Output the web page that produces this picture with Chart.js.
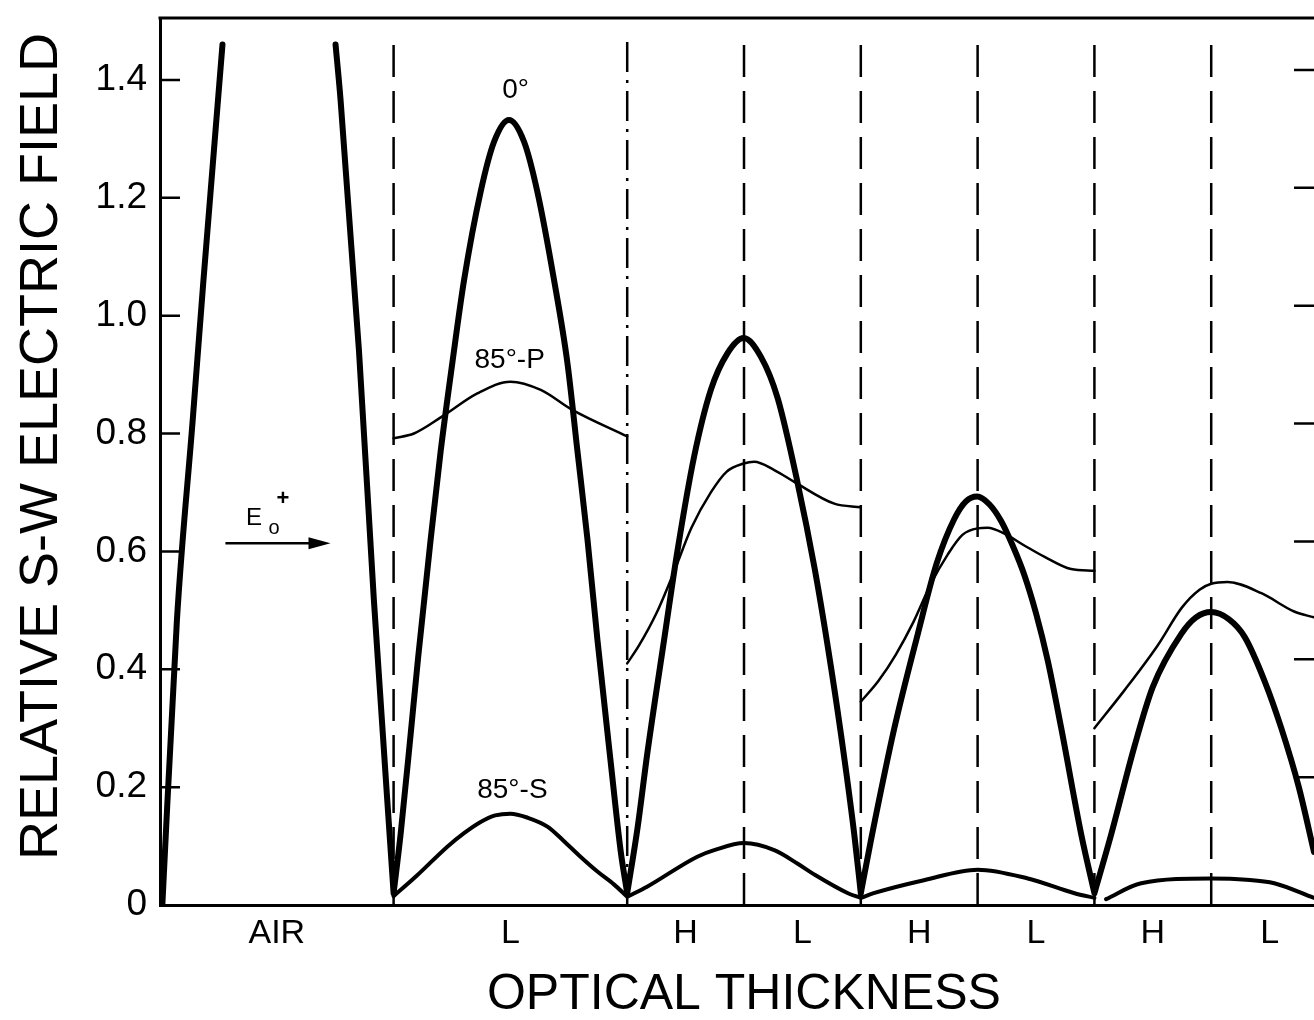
<!DOCTYPE html>
<html>
<head>
<meta charset="utf-8">
<title>Relative S-W electric field</title>
<script src="https://cdn.jsdelivr.net/npm/chart.js@4.4.1/dist/chart.umd.min.js"></script>
<style>
  html, body { margin: 0; padding: 0; background: #fff; overflow: hidden; }
  canvas { display: block; }
</style>
</head>
<body>
<canvas id="fieldChart" width="1314" height="1020"></canvas>
<script>
// optical thickness in quarter-wave units, 0 = air / first layer interface
const layerNames = ["AIR", "L", "H", "L", "H", "L", "H", "L"];
const layerCenters = [-1, 1, 2.5, 3.5, 4.5, 5.5, 6.5, 7.5];
const boundaries = [0, 2, 3, 4, 5, 6, 7];
const yTicks = [0, 0.2, 0.4, 0.6, 0.8, 1.0, 1.2, 1.4];

// [thickness, field] pairs, null = break in the curve
const normal0 = [
    [-1.98, 0.0], [-1.855, 0.484], [-1.72, 0.823], [-1.63, 1.055], [-1.465, 1.46],
    null,
    [-0.497, 1.46], [-0.454, 1.366], [-0.297, 0.942], [-0.169, 0.518], [0.0, 0.02],
    null,
    [0.0, 0.02], [0.06, 0.12], [0.146, 0.29], [0.21, 0.42], [0.317, 0.62], [0.403, 0.77],
    [0.503, 0.92], [0.603, 1.06], [0.745, 1.21], [0.86, 1.295], [0.988, 1.332], [1.117, 1.295],
    [1.231, 1.21], [1.374, 1.06], [1.488, 0.92], [1.574, 0.77], [1.66, 0.62], [1.745, 0.45],
    [1.86, 0.24], [1.945, 0.09], [2.0, 0.02],
    null,
    [2.0, 0.02], [2.088, 0.13], [2.174, 0.26], [2.316, 0.45], [2.431, 0.602], [2.573, 0.761],
    [2.716, 0.874], [2.858, 0.936], [2.997, 0.962], [3.145, 0.93], [3.288, 0.86], [3.459, 0.716],
    [3.602, 0.574], [3.716, 0.44], [3.83, 0.29], [3.944, 0.12], [4.0, 0.02],
    null,
    [4.0, 0.02], [4.087, 0.11], [4.287, 0.30], [4.488, 0.46], [4.65, 0.58], [4.8, 0.655],
    [4.9, 0.685], [4.996, 0.693], [5.1, 0.68], [5.2, 0.652], [5.3, 0.61], [5.4, 0.56],
    [5.5, 0.495], [5.6, 0.415], [5.716, 0.30], [5.887, 0.12], [6.0, 0.02],
    null,
    [6.0, 0.02], [6.144, 0.12], [6.344, 0.27], [6.5, 0.37], [6.744, 0.46], [6.87, 0.488],
    [7.0, 0.497], [7.15, 0.485], [7.286, 0.455], [7.457, 0.38], [7.6, 0.30], [7.75, 0.20],
    [7.88, 0.09]
];

const p85 = [
    [0.0, 0.792], [0.174, 0.80], [0.417, 0.829], [0.717, 0.868], [1.0, 0.888], [1.26, 0.874],
    [1.53, 0.84], [2.0, 0.795],
    null,
    [2.0, 0.41], [2.1, 0.44], [2.25, 0.495], [2.4, 0.565], [2.55, 0.64], [2.716, 0.70],
    [2.85, 0.735], [2.997, 0.749], [3.087, 0.752], [3.259, 0.738], [3.43, 0.718], [3.773, 0.681],
    [4.0, 0.675],
    null,
    [4.0, 0.345], [4.15, 0.38], [4.3, 0.425], [4.45, 0.48], [4.6, 0.545], [4.745, 0.595],
    [4.87, 0.628], [5.0, 0.639], [5.086, 0.64], [5.23, 0.63], [5.4, 0.61], [5.57, 0.591],
    [5.8, 0.57], [6.0, 0.567],
    null,
    [6.0, 0.30], [6.26, 0.365], [6.54, 0.44], [6.75, 0.505], [6.9, 0.535], [7.0, 0.545],
    [7.14, 0.548], [7.43, 0.529], [7.71, 0.498], [7.88, 0.488]
];

const s85 = [
    [0.0, 0.015], [0.2, 0.05], [0.46, 0.099], [0.603, 0.122], [0.745, 0.141], [0.87, 0.152],
    [1.0, 0.155], [1.15, 0.148], [1.317, 0.133], [1.45, 0.11], [1.6, 0.082], [1.75, 0.056],
    [1.886, 0.035], [2.0, 0.014],
    null,
    [2.0, 0.014], [2.17, 0.031], [2.6, 0.082], [2.745, 0.093], [3.0, 0.105], [3.259, 0.093],
    [3.46, 0.07], [3.6, 0.052], [3.89, 0.02], [4.0, 0.012],
    null,
    [4.0, 0.012], [4.11, 0.02], [4.54, 0.042], [5.0, 0.06], [5.43, 0.045], [5.83, 0.02], [6.0, 0.012],
    null,
    [6.1, 0.01], [6.4, 0.037], [7.0, 0.045], [7.3, 0.043], [7.54, 0.037], [7.88, 0.012]
];

// curve labels, placed in data coordinates
const curveLabels = ["0°", "85°-P", "85°-S"];
const curveLabelX = [1.045, 0.994, 1.017];
const curveLabelY = [1.383, 0.925, 0.195];

const FONT = "'Liberation Sans', Arial, sans-serif";

function toPoints(pairs) {
    return pairs.map(p => p ? { x: p[0], y: p[1] } : { x: null, y: null });
}

function curve(pairs, width) {
    return {
        data: toPoints(pairs),
        borderColor: "#000",
        borderWidth: width,
        pointRadius: 0,
        spanGaps: false,
        cubicInterpolationMode: "monotone",
        borderCapStyle: "round",
        borderJoinStyle: "round"
    };
}

const datasets = [curve(normal0, 6), curve(s85, 4), curve(p85, 2.5)];

boundaries.forEach(b => {
    datasets.push({
        data: [{ x: b, y: 0 }, { x: b, y: 1.475 }],
        borderColor: "#000",
        borderWidth: 2.5,
        borderDash: b === 2 ? [30, 8, 3, 8] : [32, 14],
        pointRadius: 0
    });
});

// frame top, inward ticks, curve labels and the incident-wave arrow
const decorations = {
    id: "decorations",
    afterDatasetsDraw(chart) {
        const { ctx, chartArea, scales: { x, y } } = chart;
        ctx.save();
        ctx.strokeStyle = "#000";
        ctx.fillStyle = "#000";
        ctx.lineCap = "butt";

        ctx.lineWidth = 3;
        ctx.beginPath();
        ctx.moveTo(chartArea.left - 1.5, chartArea.top);
        ctx.lineTo(chartArea.right, chartArea.top);
        ctx.stroke();

        ctx.lineWidth = 2.5;
        yTicks.forEach(v => {
            if (v === 0) return;
            const py = y.getPixelForValue(v);
            ctx.beginPath();
            ctx.moveTo(chartArea.left, py);
            ctx.lineTo(chartArea.left + 20, py);
            ctx.moveTo(chartArea.right - 20, py - 10);
            ctx.lineTo(chartArea.right, py - 10);
            ctx.stroke();
        });

        ctx.textAlign = "center";
        ctx.textBaseline = "middle";
        ctx.font = "28px " + FONT;
        curveLabels.forEach((t, i) => {
            ctx.fillText(t, x.getPixelForValue(curveLabelX[i]), y.getPixelForValue(curveLabelY[i]));
        });

        // E0+ arrow in the air region
        const ay = y.getPixelForValue(0.614);
        const ax0 = x.getPixelForValue(-1.44);
        const ax1 = x.getPixelForValue(-0.54);
        ctx.lineWidth = 2.5;
        ctx.beginPath();
        ctx.moveTo(ax0, ay);
        ctx.lineTo(ax1 - 15, ay);
        ctx.stroke();
        ctx.beginPath();
        ctx.moveTo(ax1, ay);
        ctx.lineTo(ax1 - 22, ay - 6);
        ctx.lineTo(ax1 - 22, ay + 6);
        ctx.closePath();
        ctx.fill();

        ctx.font = "24px " + FONT;
        ctx.fillText("E", x.getPixelForValue(-1.195), y.getPixelForValue(0.656));
        ctx.font = "20px " + FONT;
        ctx.fillText("o", x.getPixelForValue(-1.024), y.getPixelForValue(0.638));
        ctx.font = "bold 22px " + FONT;
        ctx.fillText("+", x.getPixelForValue(-0.947), y.getPixelForValue(0.689));
        ctx.restore();
    }
};

new Chart(document.getElementById("fieldChart"), {
    type: "line",
    data: { datasets: datasets },
    options: {
        responsive: false,
        animation: false,
        layout: { padding: { top: 18, right: 0, bottom: 0, left: 0 } },
        plugins: {
            legend: { display: false },
            tooltip: { enabled: false }
        },
        scales: {
            x: {
                type: "linear",
                min: -2,
                max: 7.88,
                afterBuildTicks: s => { s.ticks = layerCenters.map(v => ({ value: v })); },
                afterFit: s => { s.height = 115; s.paddingLeft = 0; s.paddingRight = 0; },
                grid: { display: false, drawTicks: false },
                border: { display: true, width: 3, color: "#000" },
                ticks: {
                    autoSkip: false,
                    maxRotation: 0,
                    padding: 8,
                    color: "#000",
                    font: { family: FONT, size: 34 },
                    callback: (v, i) => layerNames[i]
                },
                title: {
                    display: true,
                    text: " OPTICAL THICKNESS",
                    color: "#000",
                    font: { family: FONT, size: 50, lineHeight: 1 },
                    padding: { top: 0, bottom: 0 }
                }
            },
            y: {
                min: 0,
                max: 1.505,
                afterBuildTicks: s => { s.ticks = yTicks.map(v => ({ value: v })); },
                afterFit: s => { s.width = 160; s.paddingTop = 0; s.paddingBottom = 0; },
                grid: { display: false, drawTicks: false },
                border: { display: true, width: 3, color: "#000" },
                ticks: {
                    padding: 13,
                    color: "#000",
                    font: { family: FONT, size: 37 },
                    callback: v => v === 0 ? "0" : v.toFixed(1)
                },
                title: {
                    display: true,
                    text: "  RELATIVE S-W ELECTRIC FIELD",
                    color: "#000",
                    font: { family: FONT, size: 54, lineHeight: 1 },
                    padding: { top: 15, bottom: 0 }
                }
            }
        }
    },
    plugins: [decorations]
});
</script>
</body>
</html>
